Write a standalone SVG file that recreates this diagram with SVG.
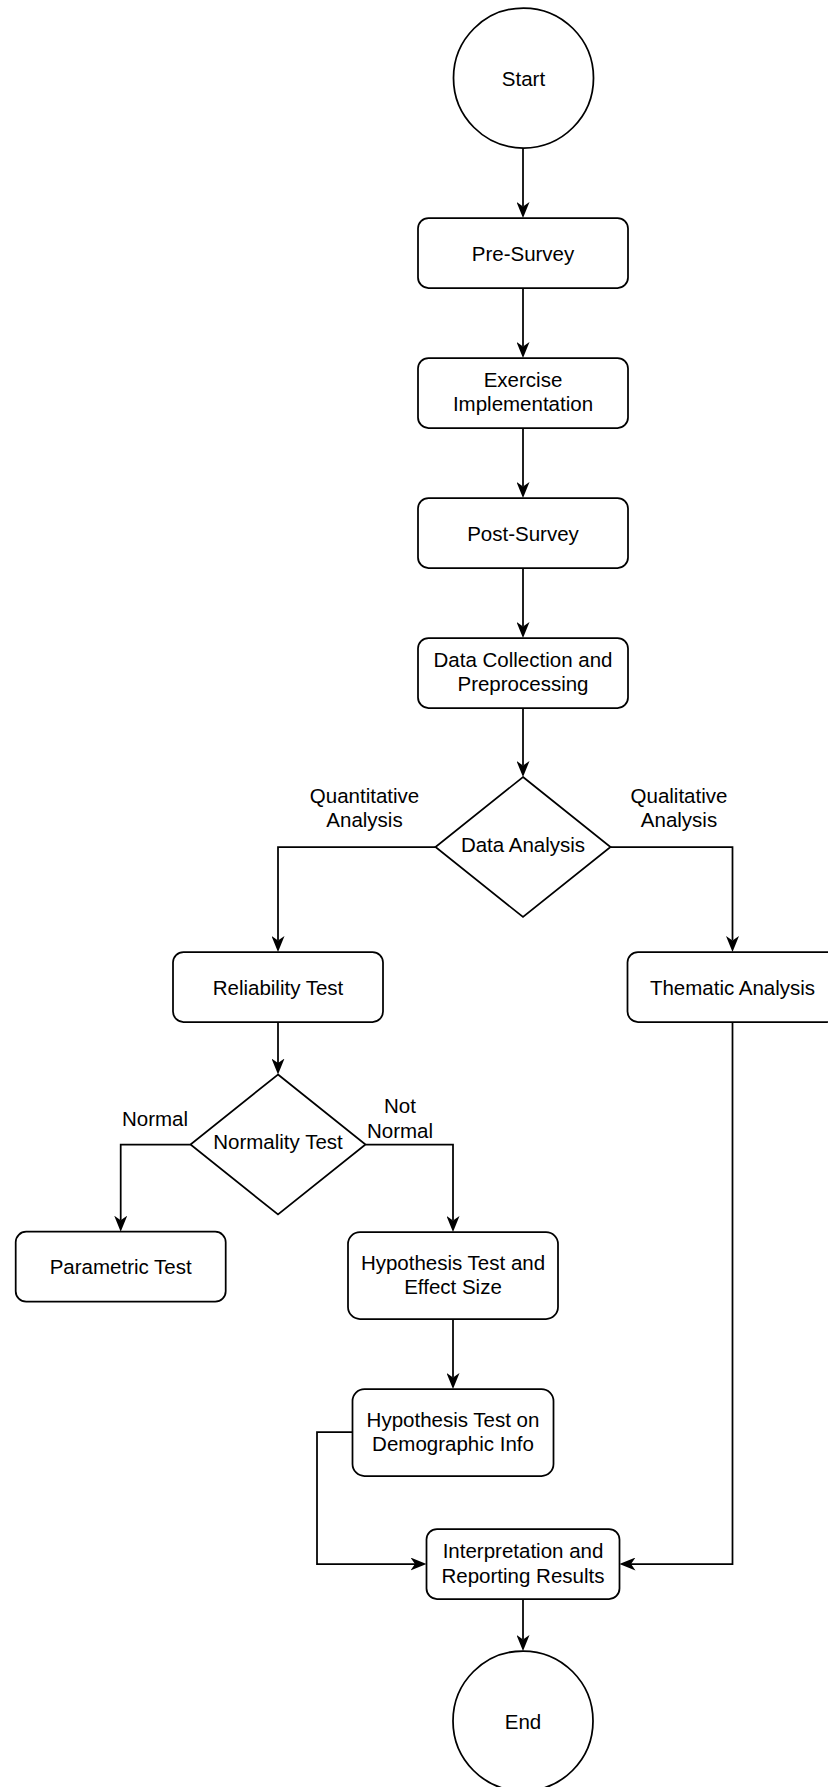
<svg xmlns="http://www.w3.org/2000/svg" width="828" height="1787" viewBox="0 0 828 1787">
  <style>
    .shape { fill: #ffffff; stroke: #000000; stroke-width: 1.75; }
    .edge { fill: none; stroke: #000000; stroke-width: 1.75; marker-end: url(#arrow); }
    text { font-family: "Liberation Sans", Arial, Helvetica, sans-serif; font-size: 20.5px; fill: #000000; text-anchor: middle; }
  </style>
  <defs>
    <marker id="arrow" viewBox="0 0 16 13" refX="4.5" refY="6.5" markerWidth="16" markerHeight="13" markerUnits="userSpaceOnUse" orient="auto">
      <path d="M0,0 L16,6.5 L0,13 L4.5,6.5 Z" fill="#000000"/>
    </marker>
  </defs>
  <rect width="828" height="1787" fill="#ffffff"/>

  <!-- connectors -->
  <g id="edges">
    <path class="edge" d="M523,148 V206.5"/>
    <path class="edge" d="M523,288 V346.5"/>
    <path class="edge" d="M523,428 V486.5"/>
    <path class="edge" d="M523,568 V626.5"/>
    <path class="edge" d="M523,708 V765.5"/>
    <path class="edge" d="M435.5,847 H278 V940.5"/>
    <path class="edge" d="M610.5,847 H732.5 V940.5"/>
    <path class="edge" d="M278,1022 V1063"/>
    <path class="edge" d="M190.5,1144.5 H120.7 V1220.2"/>
    <path class="edge" d="M365.5,1144.5 H453 V1220.5"/>
    <path class="edge" d="M453,1319 V1377.5"/>
    <path class="edge" d="M352.5,1432 H317 V1564 H415"/>
    <path class="edge" d="M732.5,1022 V1564 H631"/>
    <path class="edge" d="M523,1599 V1639.5"/>
    <!-- edge labels -->
    <text x="364.5" y="802.5">Quantitative</text>
    <text x="364.5" y="827">Analysis</text>
    <text x="679" y="802.5">Qualitative</text>
    <text x="679" y="827">Analysis</text>
    <text x="155" y="1125.5">Normal</text>
    <text x="400" y="1113">Not</text>
    <text x="400" y="1137.5">Normal</text>
  </g>

  <g id="start">
    <circle class="shape" cx="523.5" cy="78" r="70"/>
    <text x="523.5" y="86">Start</text>
  </g>
  <g id="pre-survey">
    <rect class="shape" x="418" y="218" width="210" height="70" rx="10.5"/>
    <text x="523" y="260.5">Pre-Survey</text>
  </g>
  <g id="exercise">
    <rect class="shape" x="418" y="358" width="210" height="70" rx="10.5"/>
    <text x="523" y="386.5">Exercise</text>
    <text x="523" y="411">Implementation</text>
  </g>
  <g id="post-survey">
    <rect class="shape" x="418" y="498" width="210" height="70" rx="10.5"/>
    <text x="523" y="540.5">Post-Survey</text>
  </g>
  <g id="data-collection">
    <rect class="shape" x="418" y="638" width="210" height="70" rx="10.5"/>
    <text x="523" y="666.5">Data Collection and</text>
    <text x="523" y="691">Preprocessing</text>
  </g>
  <g id="data-analysis">
    <polygon class="shape" points="523,777 610.5,847 523,917 435.5,847"/>
    <text x="523" y="851.5">Data Analysis</text>
  </g>
  <g id="reliability">
    <rect class="shape" x="173" y="952" width="210" height="70" rx="10.5"/>
    <text x="278" y="994.5">Reliability Test</text>
  </g>
  <g id="thematic">
    <rect class="shape" x="627.5" y="952" width="210" height="70" rx="10.5"/>
    <text x="732.5" y="994.5">Thematic Analysis</text>
  </g>
  <g id="normality">
    <polygon class="shape" points="278,1074.5 365.5,1144.5 278,1214.5 190.5,1144.5"/>
    <text x="278" y="1148.5">Normality Test</text>
  </g>
  <g id="parametric">
    <rect class="shape" x="15.7" y="1231.7" width="210" height="70" rx="10.5"/>
    <text x="120.7" y="1274">Parametric Test</text>
  </g>
  <g id="hypothesis-effect">
    <rect class="shape" x="348" y="1232" width="210" height="87" rx="12"/>
    <text x="453" y="1269.5">Hypothesis Test and</text>
    <text x="453" y="1294">Effect Size</text>
  </g>
  <g id="hypothesis-demographic">
    <rect class="shape" x="352.5" y="1389" width="201" height="87" rx="12"/>
    <text x="453" y="1426.5">Hypothesis Test on</text>
    <text x="453" y="1451">Demographic Info</text>
  </g>
  <g id="interpretation">
    <rect class="shape" x="426.5" y="1529" width="193" height="70" rx="10.5"/>
    <text x="523" y="1558">Interpretation and</text>
    <text x="523" y="1582.5">Reporting Results</text>
  </g>
  <g id="end">
    <circle class="shape" cx="523" cy="1721" r="70"/>
    <text x="523" y="1728.5">End</text>
  </g>
</svg>
